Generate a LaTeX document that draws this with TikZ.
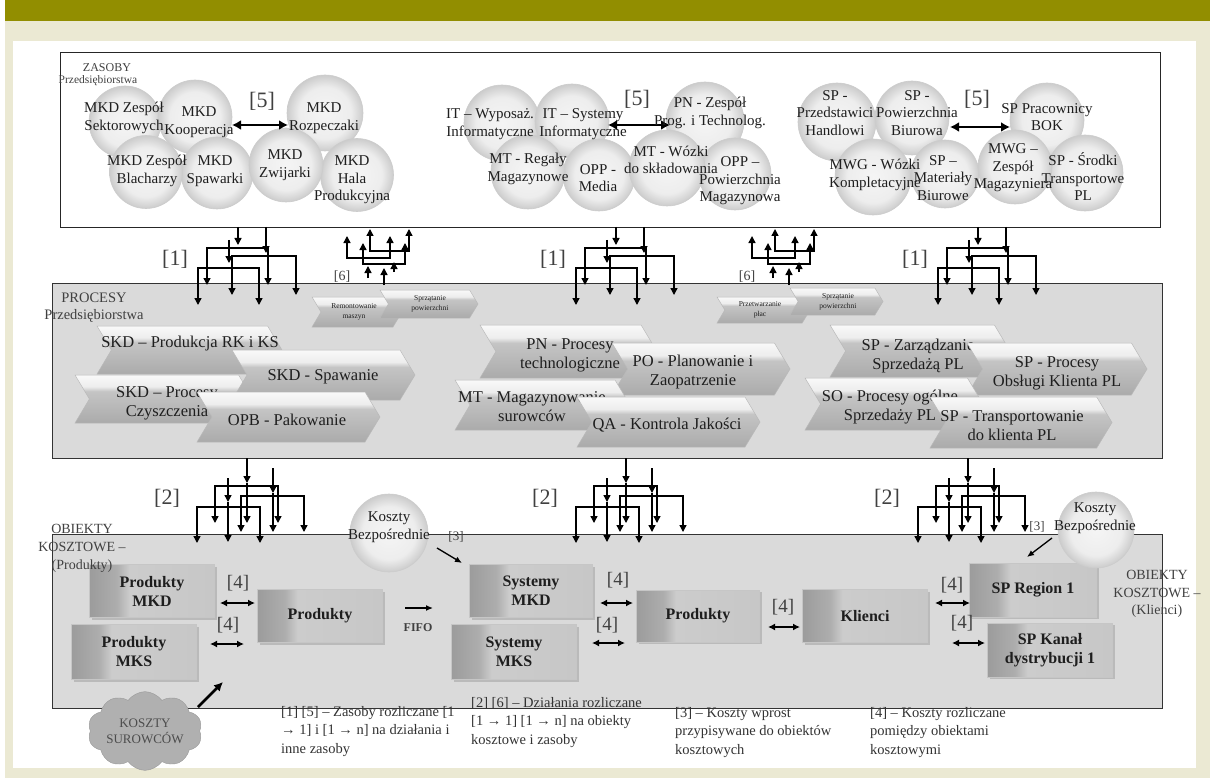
\documentclass[tikz,border=0pt]{standalone}
\usepackage{fontspec}
\setmainfont{Liberation Serif}
\usetikzlibrary{arrows.meta,shapes.symbols,shadows}
\definecolor{bannerolive}{RGB}{146,142,0}
\definecolor{bgbeige}{RGB}{235,233,211}
\definecolor{boxgray}{RGB}{218,218,218}
\definecolor{txt}{RGB}{30,30,30}
\pgfdeclareverticalshading{chevsh}{100bp}{color(0bp)=(gray!66); color(25bp)=(gray!66); color(58bp)=(gray!46); color(63bp)=(gray!14); color(75bp)=(gray!5); color(100bp)=(gray!5)}
\pgfdeclarehorizontalshading{btnsh}{100bp}{color(0bp)=(gray!78); color(25bp)=(gray!78); color(36bp)=(gray!64); color(41bp)=(gray!40); color(75bp)=(gray!44); color(100bp)=(gray!44)}
\pgfdeclareradialshading{circsh}{\pgfpointorigin}{color(0bp)=(gray!8); color(17bp)=(gray!14); color(25bp)=(gray!40); color(50bp)=(gray!40)}
\tikzset{
  chevbody/.style={shading=chevsh, draw=gray!55, line width=0.5pt},
  chevtext/.style={align=center, text=txt, font=\fontsize{16.5}{19}\selectfont, inner sep=0pt},
  smallchevtext/.style={align=center, text=txt, font=\fontsize{7.5}{9.5}\selectfont, inner sep=0pt},
  rescirc/.style={circle, shading=circsh, draw=gray!40, line width=0.6pt, minimum size=#1, inner sep=0pt},
  rescirc/.default=72pt,
  restext/.style={align=center, text=txt, font=\fontsize{15}{17.5}\selectfont, inner sep=0pt},
  btn/.style={rectangle, shading=btnsh, draw=gray!45, line width=0.6pt, drop shadow={shadow xshift=2pt, shadow yshift=-2pt, opacity=0.35}, inner sep=0pt, align=center, font=\bfseries\fontsize{16}{19}\selectfont, text=txt},
  lbl/.style={text=black!75, inner sep=0pt, align=center},
  arr/.style={line width=1.4pt, -{Triangle[length=7pt,width=7pt]}},
  fork/.style={line width=1.4pt, {Triangle[length=7pt,width=7pt]}-{Triangle[length=7pt,width=7pt]}},
  dblbig/.style={line width=2.4pt, {Latex[length=9pt,width=10pt]}-{Latex[length=9pt,width=10pt]}},
  dblfour/.style={line width=1.6pt, {Latex[length=7pt,width=7pt]}-{Latex[length=7pt,width=7pt]}},
  thinarr/.style={line width=1.3pt, -{Latex[length=7pt,width=6pt]}},
  legend/.style={anchor=north west, align=left, inner sep=0pt, text=black!80, font=\fontsize{14.5}{18.5}\selectfont},
}
\newcommand\chevpath[4]{%
  \path[chevbody] (#1,#2) -- ({#3-0.3*(#4-#2)},#2) -- (#3,{0.5*(#2+#4)}) -- ({#3-0.3*(#4-#2)},#4) -- (#1,#4) -- ({#1+0.3*(#4-#2)},{0.5*(#2+#4)}) -- cycle;}
\newcommand\chev[8]{\chevpath{#2}{#3}{#4}{#5}\node[chevtext] (#1) at (#6,#7) {#8};}
\newcommand\smallchev[8]{\chevpath{#2}{#3}{#4}{#5}\node[smallchevtext] (#1) at (#6,#7) {#8};}
\newcommand\treeone[1]{\begin{scope}[xshift=#1pt]
  \draw[arr] (238,227)--(238,245);
  \draw[arr] (266,227)--(266,253);
  \draw[arr] (229,240)--(229,263);
  \draw[fork] (207,285) |- (268,248) -- (268,285);
  \draw[fork] (232,295) |- (296,256) -- (296,295);
  \draw[fork] (198,305) |- (259,268) -- (259,305);
\end{scope}}
\newcommand\treesix[1]{\begin{scope}[xshift=#1pt]
  \draw[fork] (370,229) |- (409,251) -- (409,229);
  \draw[fork] (347,236) |- (390,258) -- (390,236);
  \draw[fork] (363,243) |- (405,264) -- (405,243);
  \draw[arr] (368,278)--(368,266);
  \draw[arr] (384,285)--(384,268);
  \draw[arr] (394,272)--(394,262);
\end{scope}}
\newcommand\treetwo[1]{\begin{scope}[xshift=#1pt]
  \draw[arr] (626,458)--(626,483);
  \draw[arr] (626,483)--(626,523);
  \draw[arr] (652,468)--(652,493);
  \draw[arr] (652,493)--(652,532);
  \draw[arr] (607,478)--(607,502);
  \draw[arr] (607,502)--(607,542);
  \draw[fork] (594,523) |- (657,486) -- (657,523);
  \draw[fork] (620,532) |- (683,496) -- (683,532);
  \draw[fork] (576,543) |- (639,507) -- (639,543);
\end{scope}}
\begin{document}
\begin{tikzpicture}[x=1pt,y=-1pt]
\useasboundingbox (0,0) rectangle (1210,778);
% background
\fill[white] (0,0) rectangle (1210,778);
\fill[bgbeige] (5,21) rectangle (1210,778);
\fill[bannerolive] (5,0) rectangle (1210,21);
\fill[white] (13,41) rectangle (1196,768);

% ===== boxes =====
\node[draw=black!85, line width=1.2pt, minimum width=1100pt, minimum height=175pt, anchor=north west, inner sep=0pt] (zasoby) at (60,52) {};
\node[draw=black!80, fill=boxgray, line width=1.2pt, minimum width=1110pt, minimum height=175pt, anchor=north west, inner sep=0pt] (procesy) at (52,283) {};
\node[draw=black!80, fill=boxgray, line width=1.2pt, minimum width=1110pt, minimum height=174pt, anchor=north west, inner sep=0pt] (obiekty) at (52,534) {};

% ===== ZASOBY =====
\node[lbl, font=\fontsize{12}{14}\selectfont] (zaslab) at (107,68) {ZASOBY};
\node[lbl, font=\fontsize{11.5}{13}\selectfont] (zaslab2) at (98,81) {Przedsiębiorstwa};

% left circles
\node[rescirc=72pt] (c1) at (125,122) {};
\node[rescirc=74pt] (c2) at (195,117) {};
\node[rescirc=76pt] (c3) at (325,113) {};
\node[rescirc=72pt] (c5) at (217,173) {};
\node[rescirc=73pt] (c4) at (146,172) {};
\node[rescirc=73pt] (c7) at (357,175) {};
\node[rescirc=74pt] (c6) at (286,165) {};
% middle circles
\node[rescirc=76pt] (m1) at (502,123) {};
\node[rescirc=74pt] (m2) at (572,121) {};
\node[rescirc=78pt] (m3) at (705,121) {};
\node[rescirc=72pt] (m5) at (599,175) {};
\node[rescirc=74pt] (m4) at (528,172) {};
\node[rescirc=72pt] (m7) at (735,174) {};
\node[rescirc=76pt] (m6) at (667,168) {};
% right circles
\node[rescirc=78pt] (r1) at (837,122) {};
\node[rescirc=74pt] (r2) at (912,118) {};
\node[rescirc=74pt] (r3) at (1047,120) {};
\node[rescirc=76pt] (r4) at (873,177) {};
\node[rescirc=68pt] (r5) at (945,174) {};
\node[rescirc=76pt] (r7) at (1085,173) {};
\node[rescirc=74pt] (r6) at (1015,167) {};

% [5] arrows
\draw[dblbig] (232,125) -- (288,125);
\draw[dblbig] (608,125) -- (670,125);
\draw[dblbig] (950,127) -- (1010,127);
\node[lbl, font=\fontsize{22}{24}\selectfont] (l5a) at (262,101) {[5]};
\node[lbl, font=\fontsize{22}{24}\selectfont] (l5b) at (637,99) {[5]};
\node[lbl, font=\fontsize{22}{24}\selectfont] (l5c) at (977,99) {[5]};

% circle texts
\node[restext] (t1) at (124,118) {MKD Zespół\\Sektorowych};
\node[restext] (t2) at (199,122) {MKD\\Kooperacja};
\node[restext] (t3) at (324,118) {MKD\\Rozpeczaki};
\node[restext] (t4) at (147,171) {MKD Zespół\\Blacharzy};
\node[restext] (t5) at (215,171) {MKD\\Spawarki};
\node[restext] (t6) at (285,165) {MKD\\Zwijarki};
\node[restext] (t7) at (352,180) {MKD\\Hala\\Produkcyjna};

\node[restext] (tm1) at (490,124) {IT – Wyposaż.\\Informatyczne};
\node[restext] (tm2) at (583,124) {IT – Systemy\\Informatyczne};
\node[restext] (tm3) at (710,113) {PN - Zespół\\Prog. i Technolog.};
\node[restext] (tm4) at (528,169) {MT - Regały\\Magazynowe};
\node[restext] (tm5) at (598,178) {OPP -\\Media};
\node[restext] (tm6) at (671,160) {MT - Wózki\\do składowania};
\node[restext] (tm7) at (740,181) {OPP –\\Powierzchnia\\Magazynowa};

\node[restext] (tr1) at (835,113) {SP -\\Przedstawici\\Handlowi};
\node[restext] (tr2) at (917,113) {SP -\\Powierzchnia\\Biurowa};
\node[restext] (tr3) at (1047,117) {SP Pracownicy\\BOK};
\node[restext] (tr4) at (875,175) {MWG - Wózki\\Kompletacyjne};
\node[restext] (tr5) at (943,178) {SP –\\Materiały\\Biurowe};
\node[restext] (tr6) at (1013,168) {MWG –\\Zespół\\Magazyniera};
\node[restext] (tr7) at (1083,177) {SP - Środki\\Transportowe\\PL};

% ===== [1] and [6] trees =====
\treeone{0}
\treeone{378}
\treeone{740}
\node[lbl, font=\fontsize{22}{24}\selectfont] (l1a) at (175,259) {[1]};
\node[lbl, font=\fontsize{22}{24}\selectfont] (l1b) at (553,259) {[1]};
\node[lbl, font=\fontsize{22}{24}\selectfont] (l1c) at (915,259) {[1]};
\treesix{0}
\treesix{405}
\node[lbl, font=\fontsize{14}{16}\selectfont] (l6a) at (342,277) {[6]};
\node[lbl, font=\fontsize{14}{16}\selectfont] (l6b) at (747,277) {[6]};

% ===== PROCESY =====
\smallchev{rem}{312}{297}{402}{327}{354}{312}{Remontowanie\\maszyn}
\smallchev{spr1}{380}{290}{478}{318}{430}{304}{Sprzątanie\\powierzchni}
\smallchev{prz}{717}{297}{810}{323}{760}{310}{Przetwarzanie\\płac}
\smallchev{spr2}{790}{288}{883}{315}{838}{302}{Sprzątanie\\powierzchni}

\chev{skd1}{97}{326}{282}{374}{190}{344}{SKD – Produkcja RK i KS}
\chev{skd3}{75}{375}{253}{423}{167}{403}{SKD – Procesy\\Czyszczenia}
\chev{skd2}{232}{350}{415}{400}{323}{377}{SKD - Spawanie}
\chev{opb}{197}{392}{380}{442}{287}{420}{OPB - Pakowanie}

\chev{pn}{480}{325}{657}{378}{570}{355}{PN - Procesy\\technologiczne}
\chev{po}{612}{343}{790}{395}{693}{372}{PO - Planowanie i\\Zaopatrzenie}
\chev{mt}{455}{380}{630}{430}{532}{407}{MT - Magazynowanie\\surowców}
\chev{qa}{577}{397}{760}{447}{667}{425}{QA - Kontrola Jakości}

\chev{spz}{830}{325}{1010}{377}{918}{356}{SP - Zarządzanie\\Sprzedażą PL}
\chev{spo}{967}{343}{1147}{395}{1057}{373}{SP - Procesy\\Obsługi Klienta PL}
\chev{so}{805}{378}{983}{430}{890}{407}{SO - Procesy ogólne\\Sprzedaży PL}
\chev{spt}{930}{397}{1112}{448}{1012}{426}{SP - Transportowanie\\do klienta PL}

\node[lbl, font=\fontsize{14.5}{16}\selectfont] (proclab) at (94,298) {PROCESY};
\node[lbl, font=\fontsize{14.5}{16}\selectfont] (proclab2) at (94,316) {Przedsiębiorstwa};

% ===== [2] trees =====
\treetwo{-379}
\treetwo{0}
\treetwo{342}
\node[lbl, font=\fontsize{22}{24}\selectfont] (l2a) at (167,498) {[2]};
\node[lbl, font=\fontsize{22}{24}\selectfont] (l2b) at (545,498) {[2]};
\node[lbl, font=\fontsize{22}{24}\selectfont] (l2c) at (887,498) {[2]};

% ===== OBIEKTY =====
\node[btn, minimum width=125pt, minimum height=53pt] (pmkd) at (152,591) {Produkty\\MKD};
\node[btn, minimum width=125pt, minimum height=55pt] (pmks) at (134,652) {Produkty\\MKS};
\node[btn, minimum width=125pt, minimum height=53pt] (prod1) at (320,616) {Produkty};
\node[btn, minimum width=123pt, minimum height=53pt] (smkd) at (531,591) {Systemy\\MKD};
\node[btn, minimum width=125pt, minimum height=55pt] (smks) at (514,652) {Systemy\\MKS};
\node[btn, minimum width=123pt, minimum height=52pt] (prod2) at (698,616) {Produkty};
\node[btn, minimum width=125pt, minimum height=53pt] (klienci) at (865,616) {Klienci};
\node[btn, minimum width=127pt, minimum height=54pt] (spr) at (1033,590) {SP Region 1};
\node[btn, minimum width=125pt, minimum height=54pt] (spk) at (1050,650) {SP Kanał\\dystrybucji 1};

\node[lbl, font=\fontsize{14}{18}\selectfont] (oblab) at (82,548) {OBIEKTY\\KOSZTOWE –\\(Produkty)};
\node[lbl, font=\fontsize{14}{17.5}\selectfont] (oblab2) at (1157,594) {OBIEKTY\\KOSZTOWE –\\(Klienci)};

% [4]
\draw[dblfour] (220,603) -- (255,603);
\draw[dblfour] (210,644) -- (244,644);
\draw[dblfour] (600,603) -- (633,603);
\draw[dblfour] (592,643) -- (625,643);
\draw[dblfour] (768,627) -- (800,627);
\draw[dblfour] (935,603) -- (970,603);
\draw[dblfour] (952,643) -- (985,643);
\node[lbl, font=\fontsize{19}{21}\selectfont] (l4a) at (238,583) {[4]};
\node[lbl, font=\fontsize{19}{21}\selectfont] (l4b) at (228,625) {[4]};
\node[lbl, font=\fontsize{19}{21}\selectfont] (l4c) at (618,580) {[4]};
\node[lbl, font=\fontsize{19}{21}\selectfont] (l4d) at (607,625) {[4]};
\node[lbl, font=\fontsize{19}{21}\selectfont] (l4e) at (783,607) {[4]};
\node[lbl, font=\fontsize{19}{21}\selectfont] (l4f) at (952,585) {[4]};
\node[lbl, font=\fontsize{19}{21}\selectfont] (l4g) at (962,623) {[4]};

% FIFO
\draw[thinarr] (405,608) -- (433,608);
\node[lbl, font=\bfseries\fontsize{12}{14}\selectfont] (fifo) at (418,628) {FIFO};

% Koszty bezposrednie
\node[rescirc=78pt] (kb1) at (389,533) {};
\node[restext] (kb1t) at (389,527) {Koszty\\Bezpośrednie};
\node[rescirc=76pt] (kb2) at (1096,530) {};
\node[restext] (kb2t) at (1095,518) {Koszty\\Bezpośrednie};
\node[lbl, font=\fontsize{13}{15}\selectfont] (l3a) at (456,537) {[3]};
\node[lbl, font=\fontsize{13}{15}\selectfont] (l3b) at (1037,527) {[3]};
\coordinate (k1s) at (437,548);
\coordinate (k1e) at (462,563);
\coordinate (k2s) at (1052,538);
\coordinate (k2e) at (1027,557);
\draw[thinarr] (k1s) -- (k1e);
\draw[thinarr] (k2s) -- (k2e);

% cloud
\node[cloud, cloud puffs=10, cloud puff arc=110, aspect=1.7, fill=gray!62, draw=gray!80, minimum width=108pt, minimum height=64pt, align=center, inner sep=0pt, font=\fontsize{13}{16}\selectfont, text=black!70] (cloud) at (145,731) {KOSZTY\\SUROWCÓW};
\coordinate (cloudtip) at (223,682);
\draw[line width=2.6pt, -{Latex[length=9pt,width=9pt]}] (198,707) -- (cloudtip);

% legend
\node[legend] (leg1) at (281,706) {[1] [5] – Zasoby rozliczane [1\\→ 1] i [1 → n] na działania i\\inne zasoby};
\node[legend] (leg2) at (471,697) {[2] [6] – Działania rozliczane\\{}[1 → 1] [1 → n] na obiekty\\kosztowe i zasoby};
\node[legend] (leg3) at (675,707) {[3] – Koszty wprost\\przypisywane do obiektów\\kosztowych};
\node[legend] (leg4) at (870,707) {[4] – Koszty rozliczane\\pomiędzy obiektami\\kosztowymi};
\end{tikzpicture}
\end{document}
